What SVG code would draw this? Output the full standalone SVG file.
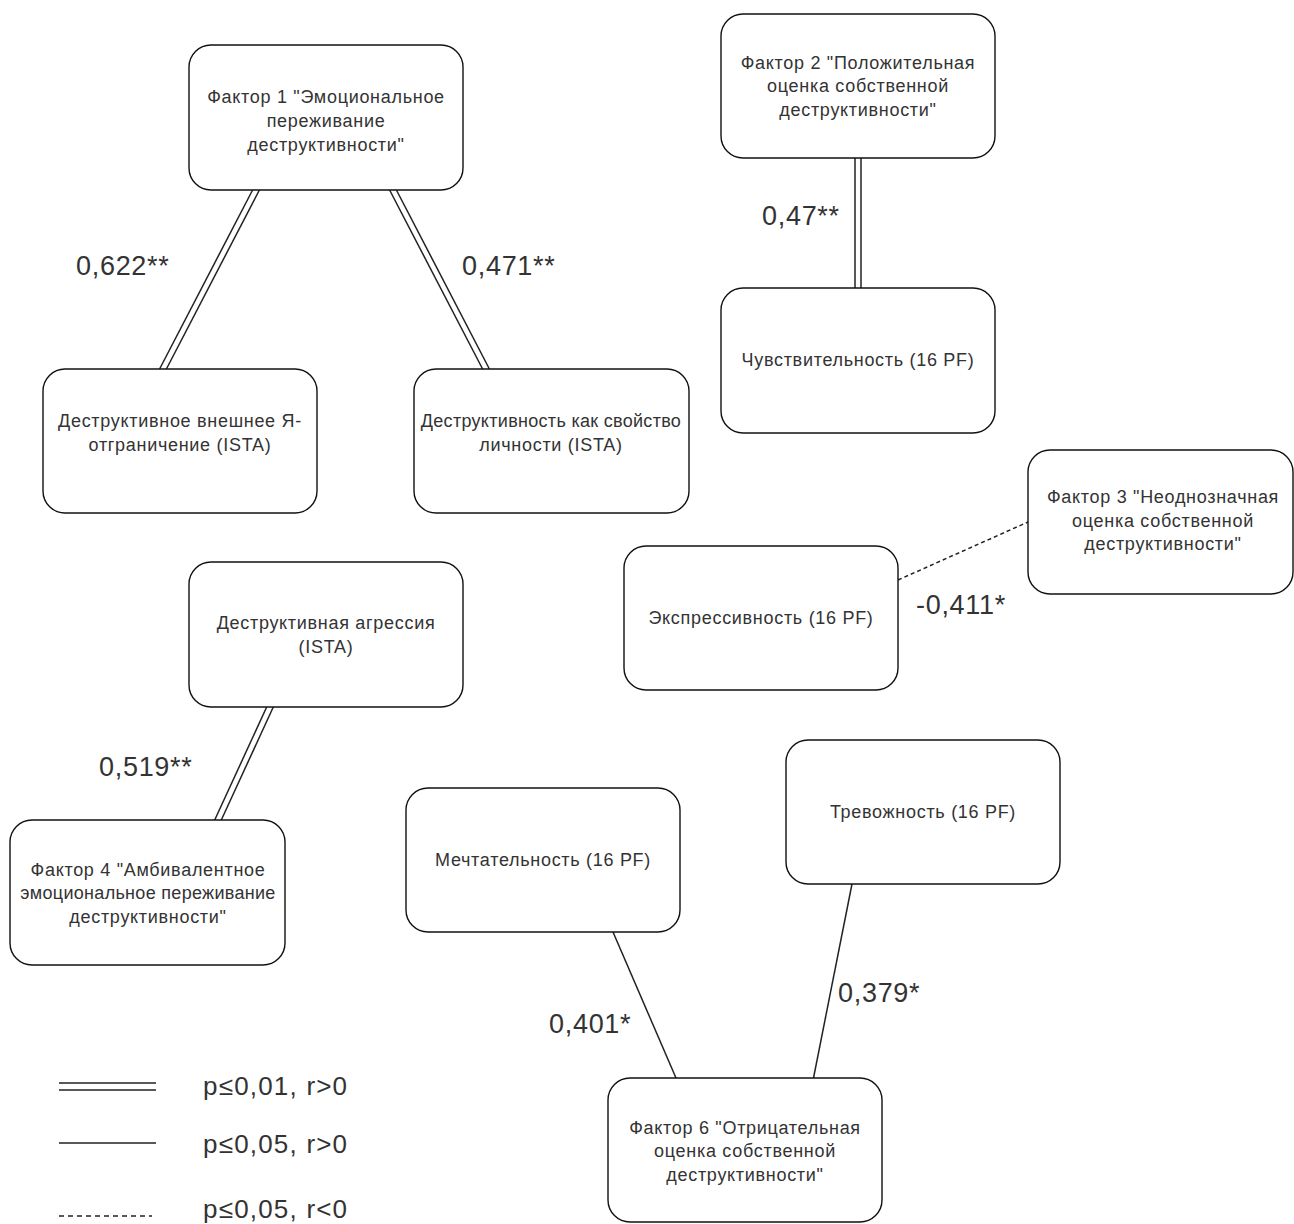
<svg xmlns="http://www.w3.org/2000/svg" width="1294" height="1224" viewBox="0 0 1294 1224">
<style>
.box{fill:#fff;stroke:#111;stroke-width:1.4}
.t{font-family:"Liberation Sans",Arial,sans-serif;font-size:18px;fill:#333;text-anchor:middle;letter-spacing:0.7px}
.lbl{font-family:"Liberation Sans",Arial,sans-serif;font-size:27px;fill:#333;letter-spacing:0.7px}
.lg{font-family:"Liberation Sans",Arial,sans-serif;font-size:26px;fill:#333;letter-spacing:1.2px}
.ln{stroke:#222;stroke-width:1.5;fill:none}
.dash{stroke:#222;stroke-width:1.5;fill:none;stroke-dasharray:4 3}
</style>
<rect width="1294" height="1224" fill="#fff"/>
<g id="connectors">
<line class="ln" x1="252.6" y1="190" x2="159.6" y2="369"/>
<line class="ln" x1="259.4" y1="190" x2="166.4" y2="369"/>
<line class="ln" x1="389.6" y1="190" x2="482.6" y2="369"/>
<line class="ln" x1="396.4" y1="190" x2="489.4" y2="369"/>
<line class="ln" x1="855" y1="158" x2="855" y2="288"/>
<line class="ln" x1="861" y1="158" x2="861" y2="288"/>
<line class="dash" x1="898" y1="580" x2="1028" y2="522"/>
<line class="ln" x1="266.7" y1="707" x2="214.7" y2="820"/>
<line class="ln" x1="273.3" y1="707" x2="221.3" y2="820"/>
<line class="ln" x1="613" y1="932" x2="676" y2="1078"/>
<line class="ln" x1="852" y1="884" x2="813.5" y2="1078"/>
</g>
<g id="labels">
<text class="lbl" x="76" y="275">0,622**</text>
<text class="lbl" x="462" y="275">0,471**</text>
<text class="lbl" x="762" y="225">0,47**</text>
<text class="lbl" x="916" y="614">-0,411*</text>
<text class="lbl" x="99" y="776">0,519**</text>
<text class="lbl" x="549" y="1033">0,401*</text>
<text class="lbl" x="838" y="1002">0,379*</text>
</g>
<g id="factor1">
<rect class="box" x="189" y="45" width="274" height="145" rx="22"/>
<text class="t" x="326" y="103">Фактор 1 "Эмоциональное</text>
<text class="t" x="326" y="127">переживание</text>
<text class="t" x="326" y="151">деструктивности"</text>
</g>
<g id="factor2">
<rect class="box" x="721" y="14" width="274" height="144" rx="22"/>
<text class="t" x="858" y="69">Фактор 2 "Положительная</text>
<text class="t" x="858" y="92">оценка собственной</text>
<text class="t" x="858" y="116">деструктивности"</text>
</g>
<g id="sensitivity">
<rect class="box" x="721" y="288" width="274" height="145" rx="22"/>
<text class="t" x="858" y="366">Чувствительность (16 PF)</text>
</g>
<g id="ext-self">
<rect class="box" x="43" y="369" width="274" height="144" rx="22"/>
<text class="t" x="180" y="427">Деструктивное внешнее Я-</text>
<text class="t" x="180" y="451">отграничение (ISTA)</text>
</g>
<g id="destr-trait">
<rect class="box" x="414" y="369" width="275" height="144" rx="22"/>
<text class="t" x="551" y="427" style="letter-spacing:0.3px">Деструктивность как свойство</text>
<text class="t" x="551" y="451">личности (ISTA)</text>
</g>
<g id="factor3">
<rect class="box" x="1028" y="450" width="265" height="144" rx="22"/>
<text class="t" x="1163" y="503">Фактор 3 "Неоднозначная</text>
<text class="t" x="1163" y="527">оценка собственной</text>
<text class="t" x="1163" y="550">деструктивности"</text>
</g>
<g id="expressiveness">
<rect class="box" x="624" y="546" width="274" height="144" rx="22"/>
<text class="t" x="761" y="624">Экспрессивность (16 PF)</text>
</g>
<g id="aggression">
<rect class="box" x="189" y="562" width="274" height="145" rx="22"/>
<text class="t" x="326" y="629">Деструктивная агрессия</text>
<text class="t" x="326" y="653">(ISTA)</text>
</g>
<g id="factor4">
<rect class="box" x="10" y="820" width="275" height="145" rx="22"/>
<text class="t" x="148" y="876">Фактор 4 "Амбивалентное</text>
<text class="t" x="148" y="899" style="letter-spacing:0.3px">эмоциональное переживание</text>
<text class="t" x="148" y="923">деструктивности"</text>
</g>
<g id="dreaminess">
<rect class="box" x="406" y="788" width="274" height="144" rx="22"/>
<text class="t" x="543" y="866">Мечтательность (16 PF)</text>
</g>
<g id="anxiety">
<rect class="box" x="786" y="740" width="274" height="144" rx="22"/>
<text class="t" x="923" y="818">Тревожность (16 PF)</text>
</g>
<g id="factor6">
<rect class="box" x="608" y="1078" width="274" height="144" rx="22"/>
<text class="t" x="745" y="1134">Фактор 6 "Отрицательная</text>
<text class="t" x="745" y="1157">оценка собственной</text>
<text class="t" x="745" y="1181">деструктивности"</text>
</g>
<g id="legend">
<line class="ln" x1="59" y1="1083" x2="156" y2="1083"/>
<line class="ln" x1="59" y1="1090" x2="156" y2="1090"/>
<text class="lg" x="203" y="1095">p≤0,01, r&gt;0</text>
<line class="ln" x1="59" y1="1143" x2="156" y2="1143"/>
<text class="lg" x="203" y="1153">p≤0,05, r&gt;0</text>
<line class="dash" x1="59" y1="1216" x2="152" y2="1216" style="stroke-dasharray:5 4"/>
<text class="lg" x="203" y="1218">p≤0,05, r&lt;0</text>
</g>
</svg>
